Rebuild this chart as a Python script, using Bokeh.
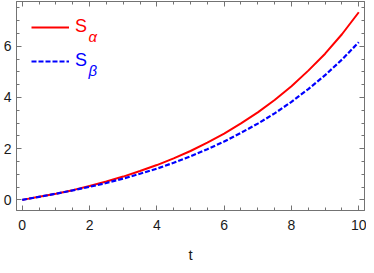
from bokeh.plotting import figure
from bokeh.models import (Range1d, LinearAxis, FixedTicker, Legend, LegendItem, Label,
                          CustomLabelingPolicy)
from bokeh.core.properties import value
from bokeh.embed import file_html
from bokeh.resources import INLINE

# ---- data ----
t = [0, 0.5, 1, 1.5, 2, 2.5, 3, 3.5, 4, 4.5, 5, 5.5, 6, 6.5, 7, 7.5, 8, 8.5, 9, 9.5, 10]
s_alpha = [0, 0.12, 0.24, 0.38, 0.54, 0.72, 0.91, 1.13, 1.36, 1.62, 1.91,
           2.24, 2.59, 2.99, 3.42, 3.90, 4.44, 5.05, 5.71, 6.47, 7.33]
s_beta = [0, 0.12, 0.24, 0.37, 0.51, 0.66, 0.83, 1.02, 1.22, 1.45, 1.70,
          1.98, 2.28, 2.62, 2.98, 3.38, 3.83, 4.33, 4.87, 5.48, 6.16]
x_ticks = [0, 2, 4, 6, 8, 10]
x_minor = [0.5, 1, 1.5, 2.5, 3, 3.5, 4.5, 5, 5.5, 6.5, 7, 7.5, 8.5, 9, 9.5, -0.5, 10.5]
y_ticks = [0, 2, 4, 6]
y_minor = [-0.5, 0.5, 1, 1.5, 2.5, 3, 3.5, 4.5, 5, 5.5, 6.5, 7, 7.5]
x_label = "t"
name_a, sub_a = "S", "α"
name_b, sub_b = "S", "β"

FRAME = "#737373"
TXT = "#1a1a1a"
FONT = "Liberation Sans"

p = figure(width=366, height=265, output_backend="svg", toolbar_location=None,
           x_range=Range1d(-0.17, 10.17), y_range=Range1d(-0.415, 7.75),
           x_axis_location=None, y_axis_location=None,
           min_border_top=1, min_border_right=2, min_border_bottom=49, min_border_left=0)
p.xgrid.visible = False
p.ygrid.visible = False
p.outline_line_color = FRAME
p.outline_line_width = 1
p.background_fill_color = "white"
p.border_fill_color = "white"

no_labels = CustomLabelingPolicy(code="""
    const all = Array.from(indices)
    for (const i of all) indices.unset(i)
    return indices
""")


def mk_axis(ticks, minor, show_labels):
    ax = LinearAxis(ticker=FixedTicker(ticks=ticks, minor_ticks=minor))
    ax.axis_line_color = FRAME
    ax.major_tick_line_color = FRAME
    ax.minor_tick_line_color = FRAME
    ax.major_tick_in = 5
    ax.major_tick_out = 0
    ax.minor_tick_in = 3
    ax.minor_tick_out = 0
    ax.major_label_text_font = FONT
    ax.major_label_text_color = TXT
    if show_labels:
        ax.major_label_text_font_size = "14px"
    else:
        ax.major_label_text_font_size = "0px"
        ax.major_label_policy = no_labels
        ax.major_label_standoff = 0
    return ax


bottom = mk_axis(x_ticks, x_minor, True)
bottom.major_label_standoff = 9
bottom.axis_label = x_label
bottom.axis_label_text_font = FONT
bottom.axis_label_text_font_size = "15px"
bottom.axis_label_text_font_style = "normal"
bottom.axis_label_text_color = TXT
bottom.axis_label_standoff = 13
p.add_layout(bottom, "below")

left = mk_axis(y_ticks, y_minor, True)
left.major_label_standoff = 5
p.add_layout(left, "left")

top = mk_axis(x_ticks, x_minor, False)
p.add_layout(top, "above")
right = mk_axis(y_ticks, y_minor, False)
p.add_layout(right, "right")

r_a = p.line(t, s_alpha, line_color="#ff0000", line_width=2)
r_b = p.line(t, s_beta, line_color="#0000ff", line_width=2.2, line_dash="5 2")


def mk_legend(r, label, color, loc):
    lg = Legend(items=[LegendItem(label=value(label), renderers=[r])], location=loc)
    lg.border_line_alpha = 0
    lg.background_fill_alpha = 0
    lg.padding = 0
    lg.margin = 0
    lg.spacing = 0
    lg.glyph_width = 38
    lg.glyph_height = 20
    lg.label_height = 20
    lg.label_standoff = 6
    lg.label_text_font = FONT
    lg.label_text_font_size = "18px"
    lg.label_text_color = color
    return lg


p.add_layout(mk_legend(r_a, name_a, "#ff0000", (15, 173)), "center")
p.add_layout(mk_legend(r_b, name_b, "#0000ff", (15, 139)), "center")

p.add_layout(Label(x=72, y=174, x_units="screen", y_units="screen", text=sub_a,
                   text_font=FONT, text_font_size="15px", text_font_style="italic",
                   text_color="#ff0000", text_baseline="alphabetic"))
p.add_layout(Label(x=72, y=140, x_units="screen", y_units="screen", text=sub_b,
                   text_font=FONT, text_font_size="15px", text_font_style="italic",
                   text_color="#0000ff", text_baseline="alphabetic"))

open("out.html", "w").write(file_html(p, INLINE))
